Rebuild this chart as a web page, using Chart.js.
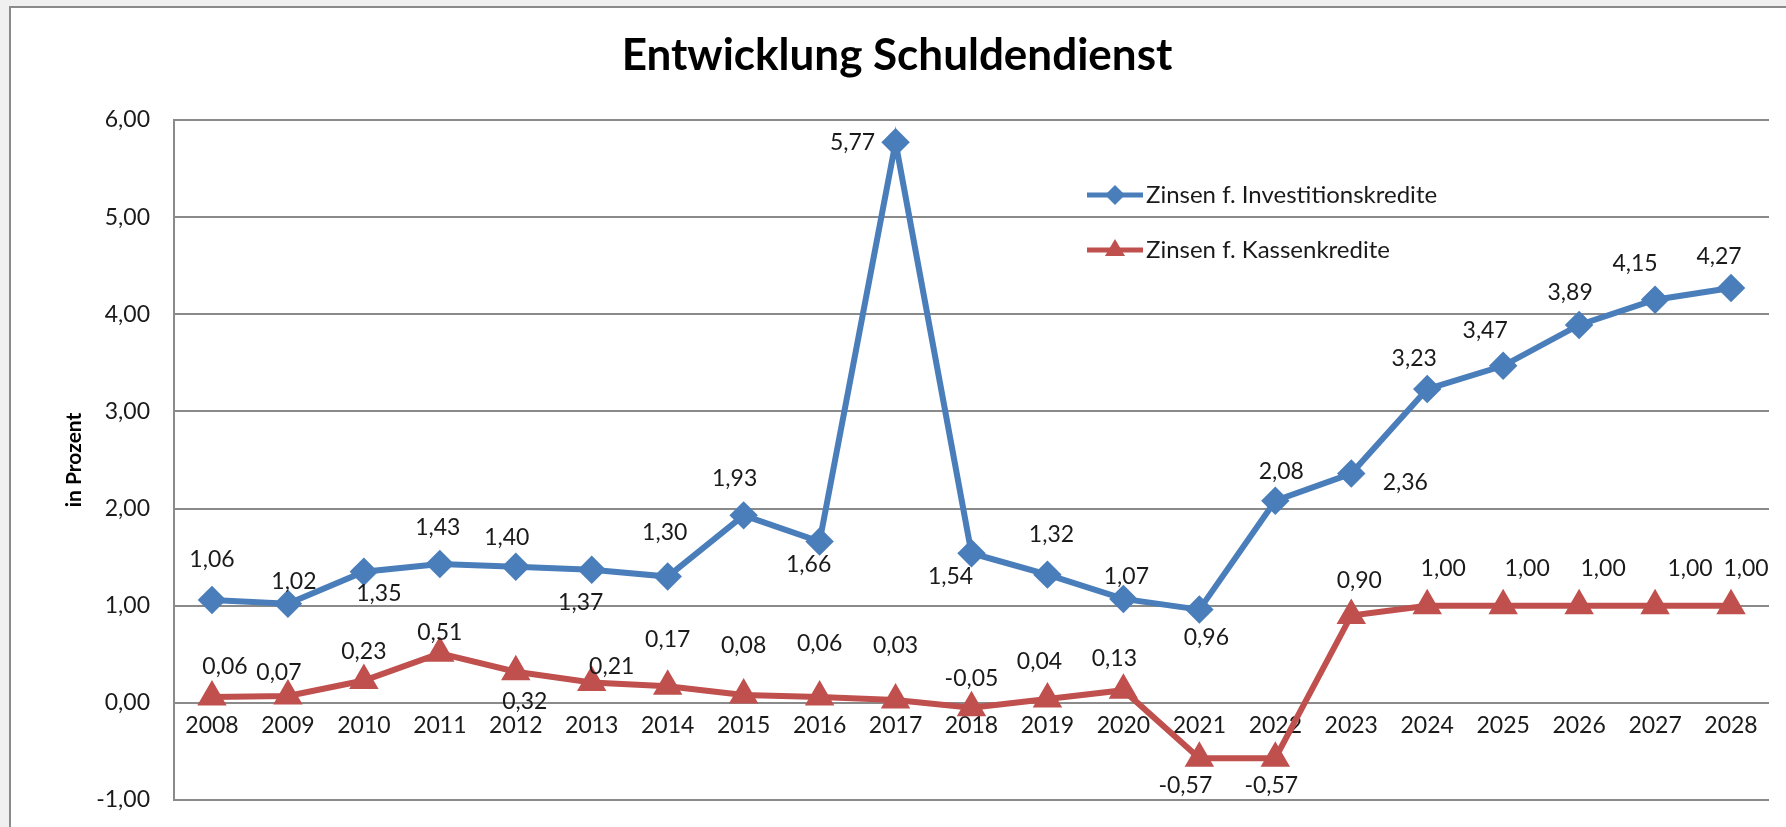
<!DOCTYPE html>
<html>
<head>
<meta charset="utf-8">
<script src="https://cdn.jsdelivr.net/npm/chart.js@4.4.1/dist/chart.umd.min.js"></script>
<style>
  html, body { margin: 0; padding: 0; background: #f0f0f0; }
  canvas { display: block; }
</style>
</head>
<body>
<canvas id="grafico" width="1786" height="827"></canvas>
<script>
// Werte aus der Vorlage
const jahre = ["2008","2009","2010","2011","2012","2013","2014","2015","2016","2017","2018",
               "2019","2020","2021","2022","2023","2024","2025","2026","2027","2028"];
const investitionskredite = [1.06, 1.02, 1.35, 1.43, 1.40, 1.37, 1.30, 1.93, 1.66, 5.77, 1.54,
                             1.32, 1.07, 0.96, 2.08, 2.36, 3.23, 3.47, 3.89, 4.15, 4.27];
const kassenkredite = [0.06, 0.07, 0.23, 0.51, 0.32, 0.21, 0.17, 0.08, 0.06, 0.03, -0.05,
                       0.04, 0.13, -0.57, -0.57, 0.90, 1.00, 1.00, 1.00, 1.00, 1.00];
const yTicks = [-1, 0, 1, 2, 3, 4, 5, 6];

const BLAU = '#4a7ebb';
const ROT = '#c0504d';
const SCHRIFT = 'Lato';

// Verschiebung der Beschriftungen relativ zum Punkt (wie im Original per Hand gesetzt)
const versatzBlau = [[0,-40],[6,-22],[15,22],[-2,-36],[-9,-29],[-11,33],[-3,-44],[-9,-37],[-11,23],[-43,0],[-21,23],
                     [4,-40],[3,-22],[7,28],[6,-29],[54,9],[-13,-31],[-18,-35],[-9,-32],[-20,-36],[-12,-31]];
const versatzRot = [[13,-30],[-9,-23],[0,-29],[0,-21],[9,30],[20,-16],[0,-47],[0,-50],[0,-53],[0,-54],[0,-29],
                    [-8,-37],[-9,-32],[-14,27],[-4,27],[8,-35],[16,-37],[24,-37],[24,-37],[35,-37],[15,-37]];

function formatZahl(v) {
  return v.toFixed(2).replace('.', ',');
}

const rahmenPlugin = {
  id: 'rahmen',
  beforeDraw(chart) {
    const c = chart.ctx;
    c.save();
    c.fillStyle = '#f0f0f0';
    c.fillRect(0, 0, chart.width, chart.height);
    c.fillStyle = '#ffffff';
    c.fillRect(10, 7, chart.width, chart.height);
    c.strokeStyle = '#8a8a8a';
    c.lineWidth = 2;
    c.strokeRect(10, 7, chart.width + 10, chart.height + 10);
    c.restore();
  },
  afterDraw(chart) {
    const c = chart.ctx;
    c.save();
    // Titel
    c.fillStyle = '#000';
    c.font = 'bold 44px ' + SCHRIFT;
    c.textAlign = 'center';
    c.textBaseline = 'alphabetic';
    c.fillText('Entwicklung Schuldendienst', 897, 70);

    // Legende
    const eintraege = [
      { text: 'Zinsen f. Investitionskredite', farbe: BLAU, form: 'raute', y: 195 },
      { text: 'Zinsen f. Kassenkredite', farbe: ROT, form: 'dreieck', y: 250 }
    ];
    eintraege.forEach(e => {
      c.strokeStyle = e.farbe;
      c.fillStyle = e.farbe;
      c.lineWidth = 5;
      c.beginPath();
      c.moveTo(1087, e.y);
      c.lineTo(1143, e.y);
      c.stroke();
      c.beginPath();
      if (e.form === 'raute') {
        c.moveTo(1115, e.y - 10); c.lineTo(1125, e.y); c.lineTo(1115, e.y + 10); c.lineTo(1105, e.y);
      } else {
        c.moveTo(1115, e.y - 11); c.lineTo(1125, e.y + 6); c.lineTo(1105, e.y + 6);
      }
      c.closePath();
      c.fill();
      c.fillStyle = '#1a1a1a';
      c.font = '24px ' + SCHRIFT;
      c.textAlign = 'left';
      c.textBaseline = 'middle';
      c.fillText(e.text, 1146, e.y);
    });
    c.restore();
  },
  afterDatasetsDraw(chart) {
    const c = chart.ctx;
    c.save();
    c.font = '23px ' + SCHRIFT;
    c.fillStyle = '#1a1a1a';
    c.textAlign = 'center';
    c.textBaseline = 'middle';
    chart.data.datasets.forEach((ds, di) => {
      const meta = chart.getDatasetMeta(di);
      const versatz = di === 0 ? versatzBlau : versatzRot;
      meta.data.forEach((pt, i) => {
        const [dx, dy] = versatz[i];
        c.fillText(formatZahl(ds.data[i]), pt.x + dx, pt.y + dy);
      });
    });
    c.restore();
  }
};

const ctx = document.getElementById('grafico');

new Chart(ctx, {
  type: 'line',
  data: {
    labels: jahre,
    datasets: [{
      label: 'Zinsen f. Investitionskredite',
      data: investitionskredite,
      borderColor: BLAU,
      backgroundColor: BLAU,
      borderWidth: 6,
      pointStyle: 'rectRot',
      pointRadius: 10,
      pointHoverRadius: 10,
      tension: 0
    }, {
      label: 'Zinsen f. Kassenkredite',
      data: kassenkredite,
      borderColor: ROT,
      backgroundColor: ROT,
      borderWidth: 6,
      pointStyle: 'triangle',
      pointRadius: 11,
      pointHoverRadius: 11,
      tension: 0
    }]
  },
  options: {
    responsive: false,
    animation: false,
    layout: { padding: { left: 0, top: 120, right: 9, bottom: 27 } },
    plugins: {
      legend: { display: false },
      title: { display: false },
      tooltip: { enabled: false }
    },
    scales: {
      x: {
        position: { y: 0 },
        offset: true,
        afterFit(scale) { scale.height = 0; },
        grid: { display: false, drawTicks: false },
        border: { display: false },
        ticks: {
          font: { family: SCHRIFT, size: 23 },
          color: '#1a1a1a',
          padding: 9,
          maxRotation: 0,
          autoSkip: false
        }
      },
      y: {
        min: -1,
        max: 6,
        afterBuildTicks(scale) {
          scale.ticks = yTicks.map(v => ({ value: v }));
        },
        afterFit(scale) {
          scale.width = 174;
          scale.paddingTop = 14;
          scale.paddingBottom = 14;
        },
        grid: { color: '#8a8a8a', lineWidth: 2, drawTicks: false },
        border: { display: true, color: '#8a8a8a', width: 2 },
        ticks: {
          font: { family: SCHRIFT, size: 23 },
          color: '#1a1a1a',
          padding: 24,
          callback: v => formatZahl(v)
        },
        title: {
          display: true,
          text: 'in Prozent',
          font: { family: SCHRIFT, size: 21, weight: 'bold' },
          color: '#000',
          padding: { top: 62, bottom: 0 }
        }
      }
    }
  },
  plugins: [rahmenPlugin]
});
</script>
</body>
</html>
